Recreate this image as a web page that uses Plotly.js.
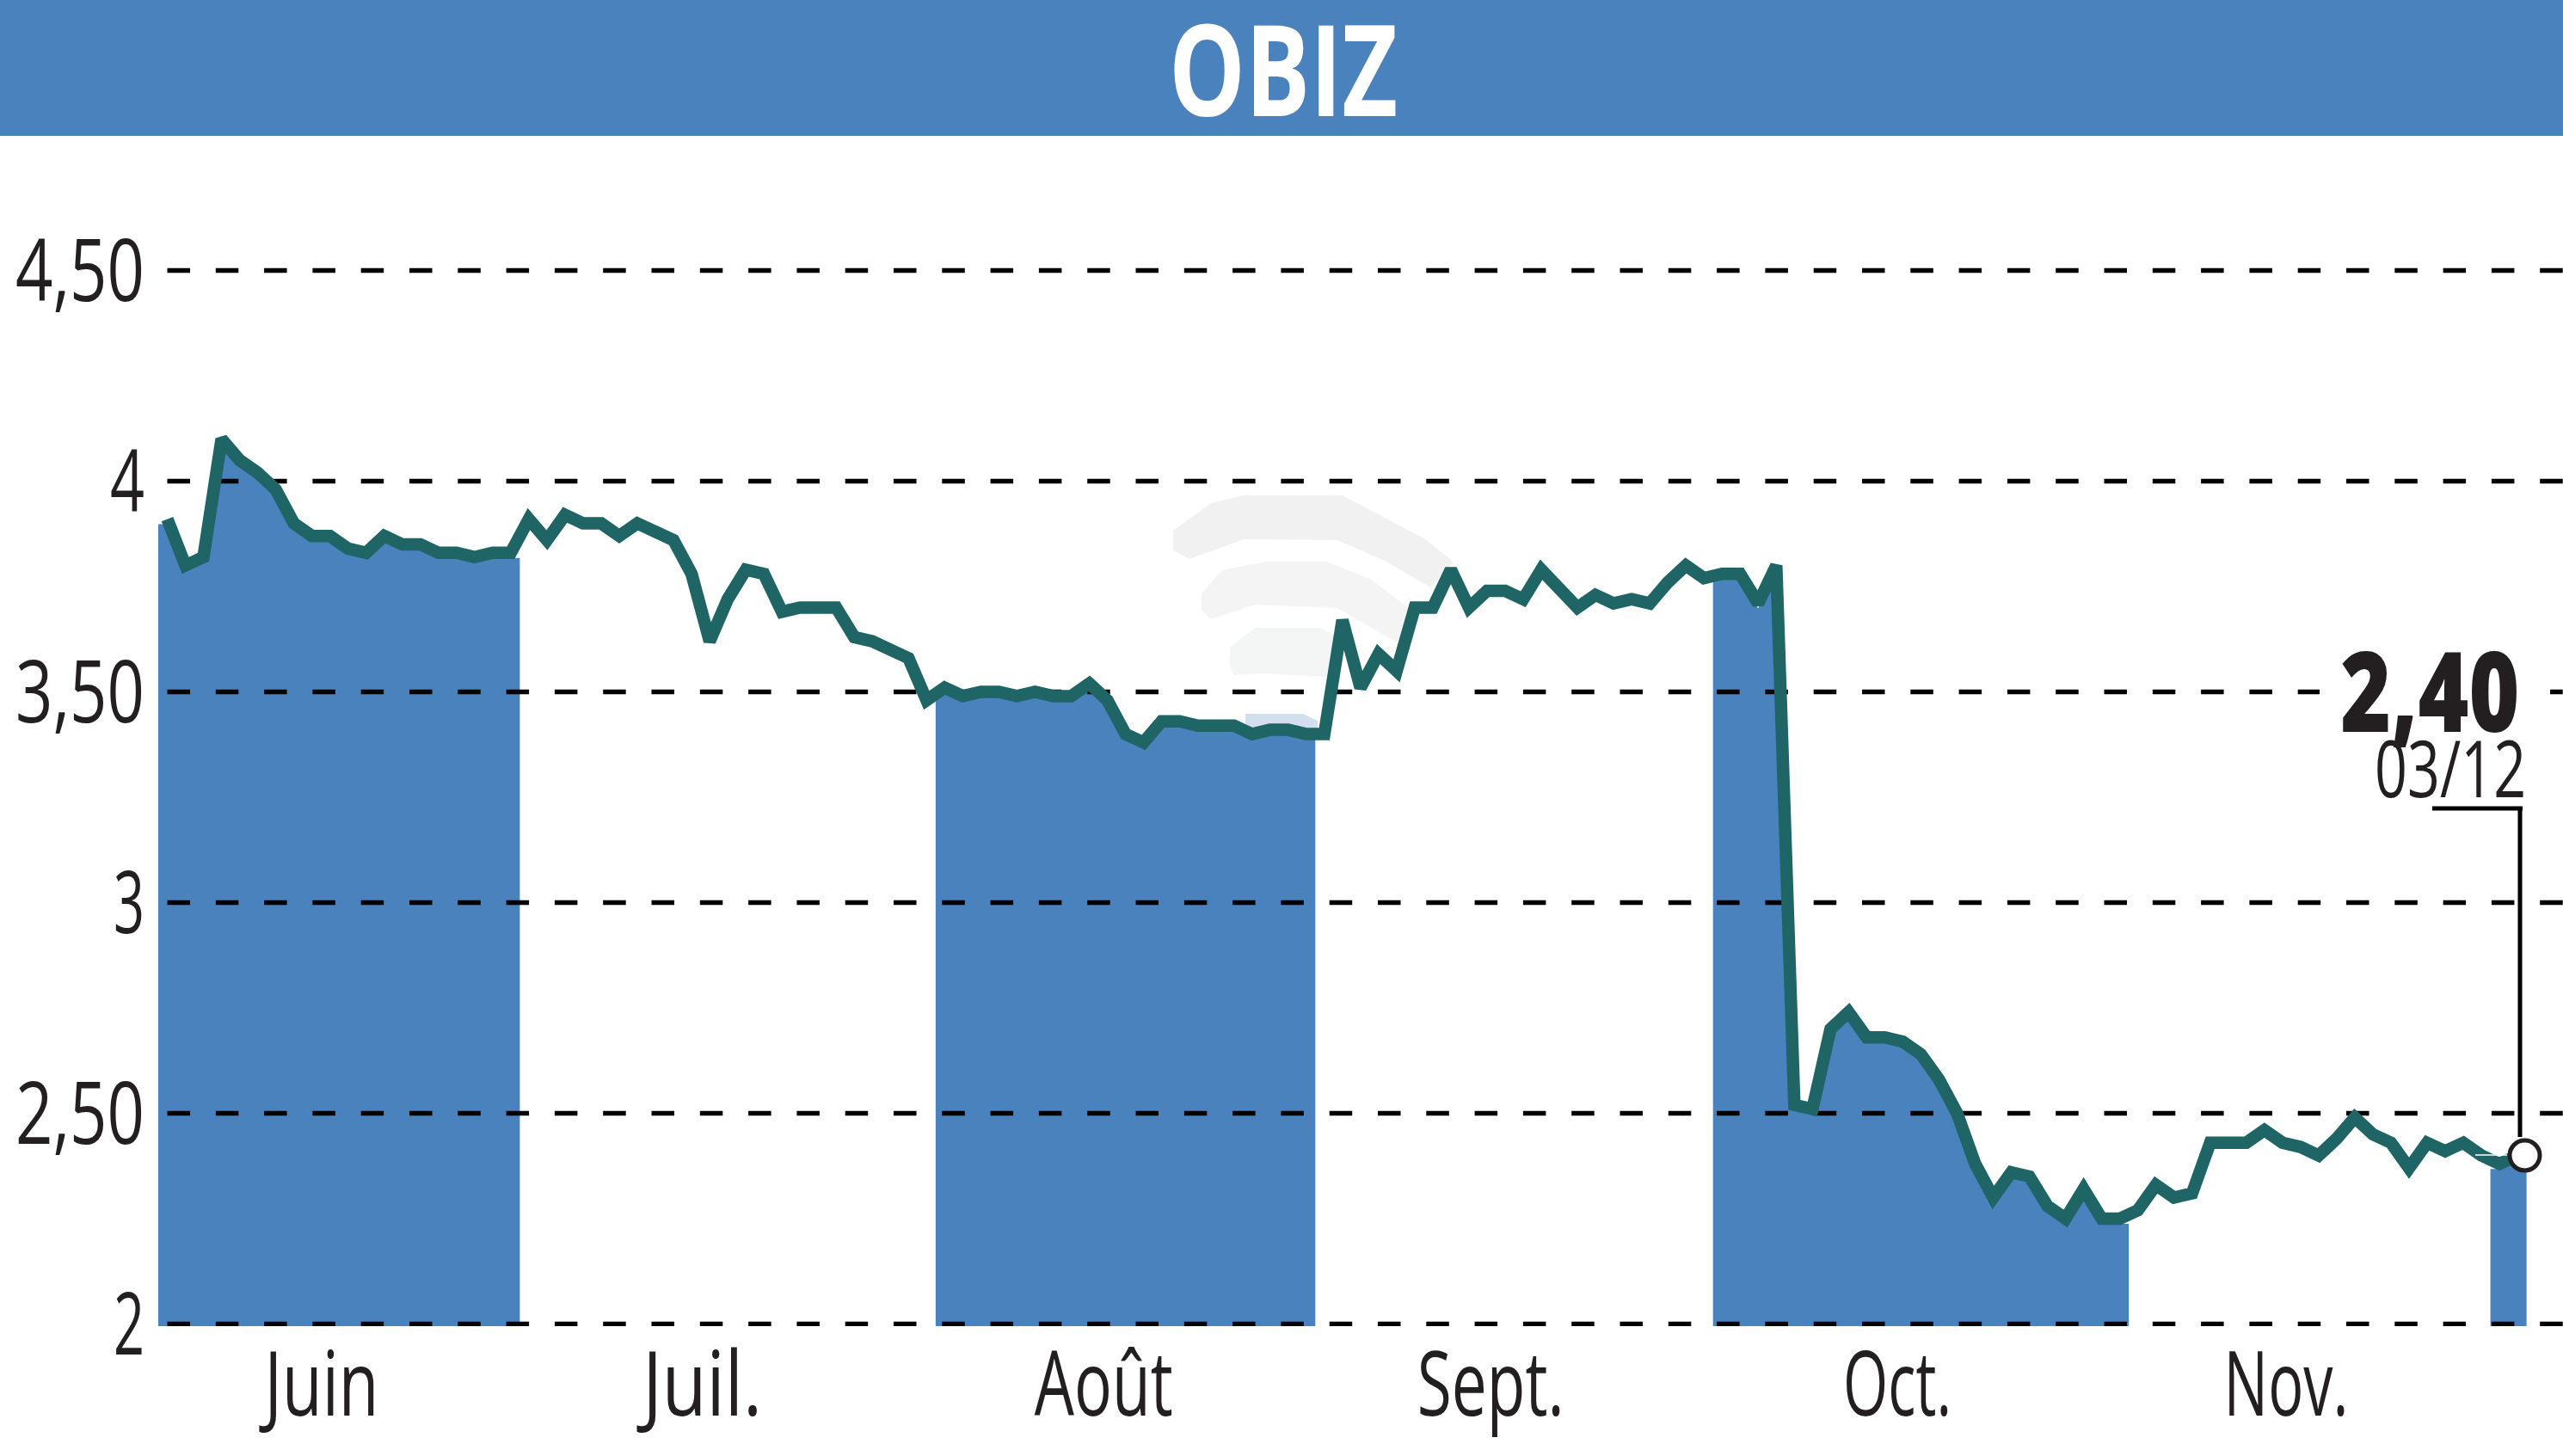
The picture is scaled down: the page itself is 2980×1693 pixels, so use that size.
<!DOCTYPE html>
<html>
<head>
<meta charset="utf-8">
<script src="https://cdn.plot.ly/plotly-3.0.1.min.js"></script>
<style>html,body{margin:0;padding:0;background:#fff}#chart{width:2980px;height:1693px}</style>
</head>
<body>
<div id="chart"></div>
<script>
const title = "OBIZ";
const prices = [
3.91,3.80,3.82,4.10,4.05,4.02,3.98,3.90,3.87,3.87,3.84,3.83,3.87,3.85,3.85,3.83,3.83,3.82,3.83,3.83,
3.91,3.86,3.92,3.90,3.90,3.87,3.90,3.88,3.86,3.78,3.62,3.72,3.79,3.78,3.69,3.70,3.70,3.70,3.63,3.62,3.60,3.58,3.48,
3.51,3.49,3.50,3.50,3.49,3.50,3.49,3.49,3.52,3.48,3.40,3.38,3.43,3.43,3.42,3.42,3.42,3.40,3.41,3.41,3.40,
3.40,3.67,3.51,3.59,3.55,3.70,3.70,3.79,3.70,3.74,3.74,3.72,3.79,3.75,3.70,3.73,3.71,3.72,3.71,3.76,3.80,3.77,
3.78,3.78,3.71,3.80,2.52,2.51,2.70,2.74,2.68,2.68,2.67,2.64,2.58,2.50,2.38,2.30,2.36,2.35,2.28,2.25,2.32,2.25,2.25,
2.27,2.33,2.30,2.31,2.43,2.43,2.43,2.46,2.43,2.42,2.40,2.44,2.49,2.45,2.43,2.37,2.43,2.41,2.43,2.40,
2.38,2.40];
const monthLengths = [20,23,21,22,23,20,2];
const monthLabels = ["Juin","Juil.","Août","Sept.","Oct.","Nov."];
const monthLabelPositions = [8.54,29.6,51.8,73.2,95.7,117.2];
const yTickValues = [2,2.5,3,3.5,4,4.5];
const yTickLabels = ["2","2,50","3","3,50","4","4,50"];
const lastValueLabel = "2,40";
const lastDateLabel = "03/12";
const lastValue = 2.40;

const W = 2980, H = 1693;
const plotL = 184, plotT = 192, plotB = 1542;
const BLUE = "#4a82be", GREEN = "#1f6566", INK = "#231f20";
const FONT = '"Open Sans","Noto Sans",sans-serif';
const areaDrop = 0.012;
const textWidths = {"Juin":133,"Juil.":139,"Août":161,"Sept.":171,"Oct.":126,"Nov.":145,
  "2":36,"3":36,"4":40,"2,50":150,"3,50":150,"4,50":150,"2,40":208,"03/12":176,"OBIZ":266};

const days = prices.map((_, i) => i);
const xEnd = (W - 194.5) / 21.02;
const px = x => (x - plotL) / (W - plotL);
const py = y => (plotB - y) / (plotB - plotT);
const poly = pts => "M" + pts.map(p => px(p[0]) + "," + py(p[1])).join("L") + "Z";
const paperShape = (path, fill) => ({type:"path", xref:"paper", yref:"paper", path, fillcolor:fill, line:{width:0}, layer:"below"});
const rule = (x0,y0,x1,y1,c,w) => ({type:"line", xref:"paper", yref:"paper", x0:px(x0), y0:py(y0), x1:px(x1), y1:py(y1), line:{color:c,width:w}, layer:"above"});

const traces = [];
let start = 0;
monthLengths.forEach((n, m) => {
  if (m % 2 === 0) {
    const xs = days.slice(start, start + n), ys = prices.slice(start, start + n).map(v => v - areaDrop);
    xs.unshift(start - 0.5); ys.unshift(ys[0]);
    xs.push(start + n - 0.5); ys.push(ys[ys.length - 1]);
    traces.push({type:"scatter", mode:"none", x:xs, y:ys, fill:"tozeroy", fillcolor:BLUE, hoverinfo:"skip"});
  }
  start += n;
});
yTickValues.forEach(v => traces.push({
  type:"scatter", mode:"lines", x:[0,xEnd], y:[v,v],
  line:{color:"#000", width:5.5, dash:"26.5px,29.8px"}, hoverinfo:"skip"
}));
traces.push({type:"scatter", mode:"lines", x:days, y:prices, line:{color:GREEN, width:14.5}, hoverinfo:"skip"});
traces.push({type:"scatter", mode:"markers", x:[days[days.length-1]+0.4], y:[lastValue], cliponaxis:false,
  marker:{size:35, color:"#fff", line:{color:INK, width:5}}, hoverinfo:"skip"});

const layout = {
  width:W, height:H, showlegend:false, paper_bgcolor:"#fff", plot_bgcolor:"rgba(0,0,0,0)",
  margin:{l:plotL, r:0, t:plotT, b:H-plotB, pad:0},
  font:{family:FONT, color:INK},
  xaxis:{range:[-0.5,xEnd], tickmode:"array", tickvals:monthLabelPositions, ticktext:monthLabels,
    showgrid:false, zeroline:false, showline:false, ticks:"", ticklabelstandoff:-1,
    tickangle:0, tickfont:{family:FONT, size:104, color:INK}},
  yaxis:{range:[2-2.5/490,4.75], tickmode:"array", tickvals:yTickValues, ticktext:yTickLabels,
    showgrid:false, zeroline:false, showline:false, ticks:"", ticklabelstandoff:15,
    tickfont:{family:FONT, size:100, color:INK}},
  shapes:[
    {type:"rect", xref:"paper", yref:"paper", x0:px(0), x1:1, y0:py(158), y1:py(0), fillcolor:BLUE, line:{width:0}, layer:"below"},
    paperShape(poly([[1364,617],[1408,585],[1446,576],[1561,576],[1612,603],[1657,627],[1686,650],[1689,655],[1663,683],[1612,653],[1555,628],[1446,627],[1383,650],[1364,640]]),"#f0f1f0"),
    paperShape(poly([[1397,690],[1421,663],[1472,653],[1542,653],[1593,673],[1638,707],[1625,747],[1600,733],[1555,707],[1459,703],[1408,720],[1397,710]]),"#f3f4f3"),
    paperShape(poly([[1430,753],[1459,730],[1535,730],[1555,740],[1542,787],[1466,783],[1434,785],[1430,773]]),"#f4f5f5"),
    paperShape(poly([[1448,830],[1515,830],[1532,838],[1532,850],[1448,850]]),"#d3deef"),
    {type:"rect", xref:"paper", yref:"paper", x0:px(2697), x1:px(2965), y0:py(820), y1:py(790), fillcolor:"#fff", line:{width:0}, layer:"above"},
    rule(2828,940,2933,940,"#000",5),
    rule(2930,938,2930,1322,"#000",5),
    rule(2878,1343,2915,1343,"#fff",1.5)
  ],
  annotations:[
    {xref:"paper", yref:"paper", x:px(1492), y:py(78), text:title, showarrow:false, xanchor:"center", yanchor:"middle",
      font:{family:FONT, size:148, color:"#fff", weight:700}},
    {xref:"paper", yref:"paper", x:px(2825), y:py(800), text:lastValueLabel, showarrow:false, xanchor:"center", yanchor:"middle",
      font:{family:FONT, size:130, color:INK, weight:800}, borderpad:0},
    {xref:"paper", yref:"paper", x:px(2849), y:py(891), text:lastDateLabel, showarrow:false, xanchor:"center", yanchor:"middle",
      font:{family:FONT, size:92, color:INK}, borderpad:0}
  ]
};
Plotly.newPlot("chart", traces, layout, {staticPlot:true, displayModeBar:false}).then(gd => {
  gd.querySelectorAll(".xtick text, .ytick text, .annotation-text").forEach(t => {
    const w = textWidths[t.textContent];
    if (w) { t.setAttribute("textLength", w); t.setAttribute("lengthAdjust", "spacingAndGlyphs"); }
  });
});
</script>
</body>
</html>
